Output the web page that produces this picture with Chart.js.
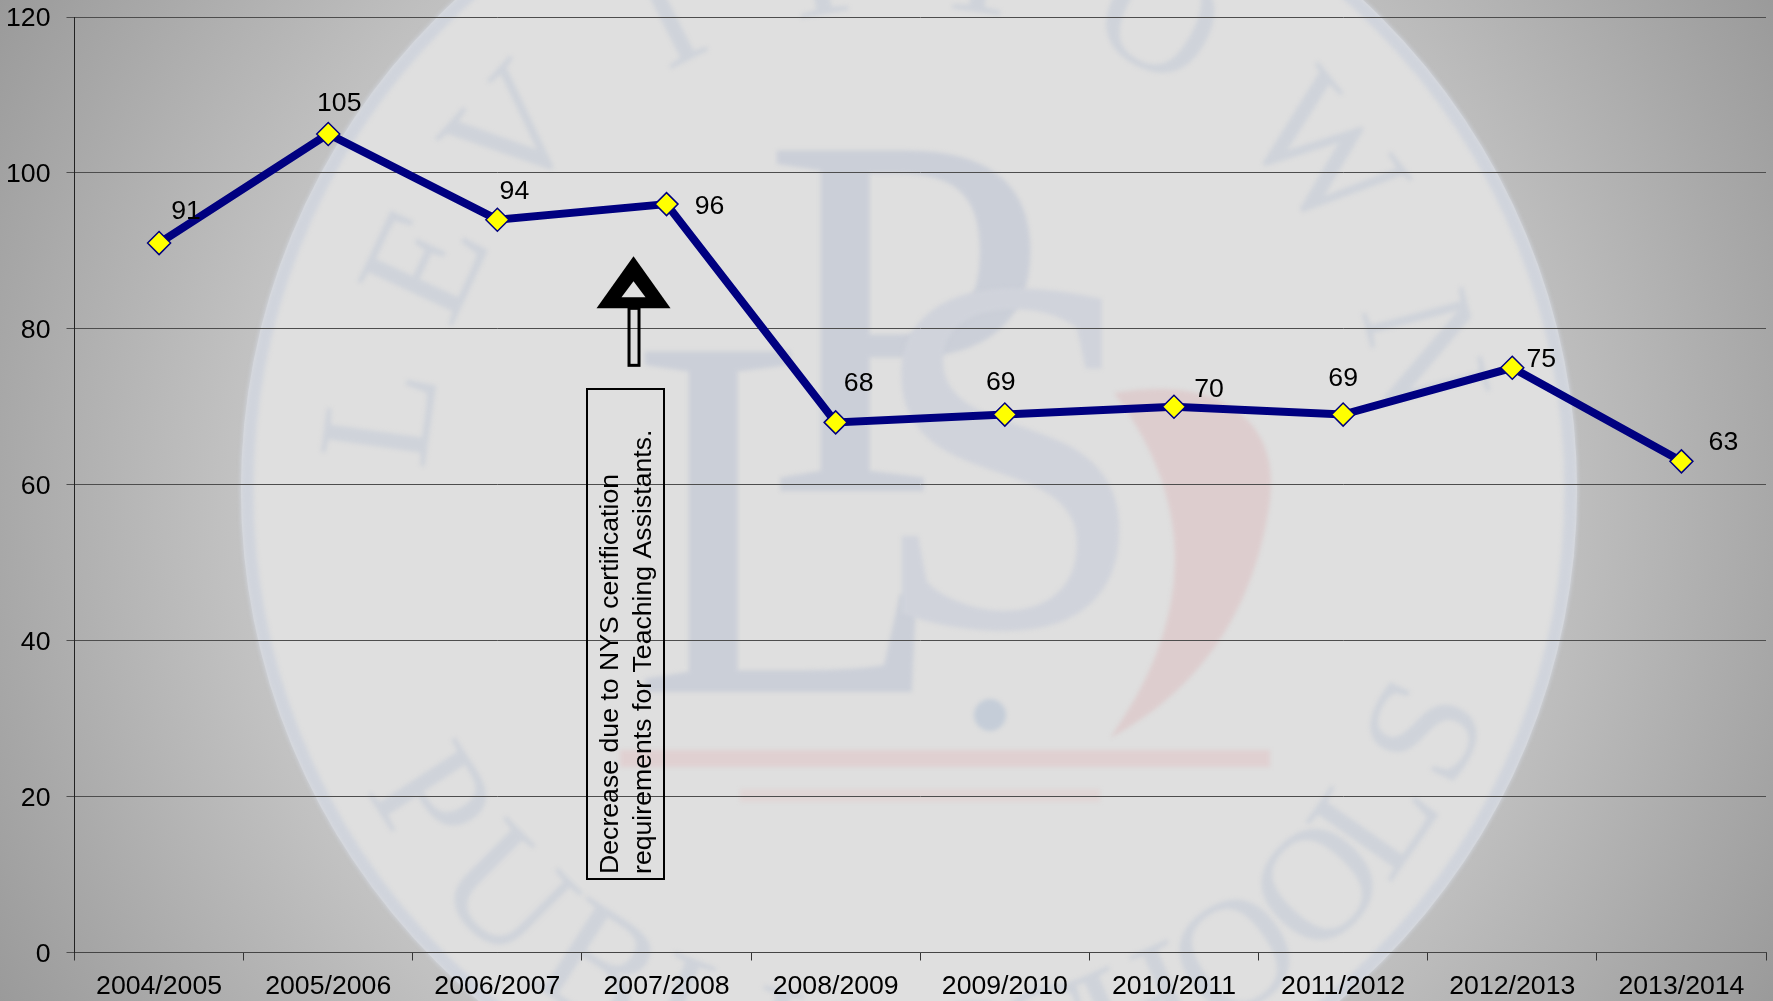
<!DOCTYPE html>
<html>
<head>
<meta charset="utf-8">
<title>Chart</title>
<script src="https://cdn.jsdelivr.net/npm/chart.js@4"></script>
<style>
    html, body { margin: 0; padding: 0; background: #c0c0c0; overflow: hidden; }
    canvas { display: block; }
</style>
</head>
<body>
<canvas id="line-chart" width="1773" height="1001"></canvas>
<script>
const years = ['2004/2005', '2005/2006', '2006/2007', '2007/2008', '2008/2009', '2009/2010', '2010/2011', '2011/2012', '2012/2013', '2013/2014'];
const values = [91, 105, 94, 96, 68, 69, 70, 69, 75, 63];
const yTicks = [0, 20, 40, 60, 80, 100, 120];
const noteLines = ['Decrease due to NYS certification', 'requirements for Teaching Assistants.'];
const FONT = '"Liberation Sans", Arial, sans-serif';
const FONT_SIZE = 26.67;

// where each value label sits relative to its point
const labelOffsets = [[27, -31], [11, -30], [17, -28], [43, 3], [23, -39], [-4, -32], [35, -17], [0, -36], [29, -8], [42, -19]];

// letters round the seal, angle in degrees from straight up / straight down
const sealTop = [['L', -82], ['E', -65], ['V', -48], ['I', -27], ['T', -10], ['T', 8], ['O', 28], ['W', 51], ['N', 75]];
const sealBottom = [['P', -57], ['U', -45], ['B', -33], ['L', -22], ['I', -14], ['C', -6], ['S', 6], ['C', 14], ['H', 24], ['O', 35], ['O', 46], ['L', 55], ['S', 65]];

const background = {
    id: 'background',
    beforeDraw(chart) {
        const ctx = chart.ctx;
        const w = chart.width, h = chart.height;
        ctx.save();
        const grad = ctx.createRadialGradient(886, 500, 0, 886, 500, 1020);
        grad.addColorStop(0, '#e0e0e0');
        grad.addColorStop(0.6, '#c6c6c6');
        grad.addColorStop(0.87, '#a8a8a8');
        grad.addColorStop(1, '#9a9a9a');
        ctx.fillStyle = grad;
        ctx.fillRect(0, 0, w, h);

        const cx = 909, cy = 490, r = 668;
        ctx.beginPath();
        ctx.arc(cx, cy, r, 0, Math.PI * 2);
        ctx.fillStyle = '#dfdfdf';
        ctx.fill();

        ctx.filter = 'blur(2px)';
        ctx.lineWidth = 13;
        ctx.strokeStyle = '#d0d4dc';
        ctx.beginPath();
        ctx.arc(cx, cy, r - 6, 0, Math.PI * 2);
        ctx.stroke();

        ctx.fillStyle = '#cfd3da';
        ctx.textAlign = 'center';
        ctx.textBaseline = 'middle';
        ctx.font = '160px "Liberation Serif", serif';
        sealTop.forEach(([ch, deg]) => {
            const a = deg * Math.PI / 180;
            ctx.save();
            ctx.translate(cx + Math.sin(a) * 525, cy - Math.cos(a) * 525);
            ctx.rotate(a);
            ctx.fillText(ch, 0, 0);
            ctx.restore();
        });
        sealBottom.forEach(([ch, deg]) => {
            const a = deg * Math.PI / 180;
            ctx.save();
            ctx.translate(cx + Math.sin(a) * 578, cy + Math.cos(a) * 578);
            ctx.rotate(-a);
            ctx.fillText(ch, 0, 0);
            ctx.restore();
        });

        // monogram
        ctx.textAlign = 'left';
        ctx.textBaseline = 'alphabetic';
        ctx.fillStyle = '#cbcfd8';
        ctx.font = '520px "Liberation Serif", serif';
        ctx.fillText('L', 630, 692);
        ctx.fillText('P', 762, 491);
        ctx.fillStyle = '#d0d3db';
        ctx.textAlign = 'center';
        ctx.font = '510px "Liberation Serif", serif';
        ctx.fillText('S', 1009, 626);

        // red swoosh and bars
        ctx.fillStyle = '#ddcdce';
        ctx.beginPath();
        ctx.moveTo(1114, 393);
        ctx.bezierCurveTo(1220, 375, 1280, 420, 1270, 500);
        ctx.bezierCurveTo(1255, 610, 1200, 690, 1110, 738);
        ctx.bezierCurveTo(1180, 640, 1210, 520, 1114, 393);
        ctx.fill();
        ctx.fillStyle = '#e0d0d1';
        ctx.fillRect(620, 750, 650, 17);
        ctx.fillStyle = '#e0d6d6';
        ctx.fillRect(740, 789, 360, 13);
        ctx.fillStyle = '#c5cdd8';
        ctx.beginPath();
        ctx.arc(990, 715, 16, 0, Math.PI * 2);
        ctx.fill();
        ctx.restore();
    }
};

const annotations = {
    id: 'annotations',
    afterDraw(chart) {
        const ctx = chart.ctx;
        const meta = chart.getDatasetMeta(0);
        const x = chart.scales.x, y = chart.scales.y;
        ctx.save();

        ctx.fillStyle = '#000';
        ctx.font = FONT_SIZE + 'px ' + FONT;
        ctx.textAlign = 'center';
        ctx.textBaseline = 'middle';
        meta.data.forEach((pt, i) => {
            ctx.fillText(values[i], pt.x + labelOffsets[i][0], pt.y + labelOffsets[i][1]);
        });

        // arrow, hung off the 2007/2008 category
        const ax = x.getPixelForValue(3) - 33;
        const ay = y.getPixelForValue(89.3);
        ctx.beginPath();
        ctx.moveTo(ax, ay);
        ctx.lineTo(ax + 37, ay + 52);
        ctx.lineTo(ax - 37, ay + 52);
        ctx.closePath();
        ctx.fill();
        ctx.fillStyle = '#e0e0e0';
        ctx.beginPath();
        ctx.moveTo(ax, ay + 25);
        ctx.lineTo(ax + 12, ay + 41);
        ctx.lineTo(ax - 12, ay + 41);
        ctx.closePath();
        ctx.fill();
        ctx.strokeStyle = '#000';
        ctx.lineWidth = 3;
        ctx.strokeRect(ax - 4.5, ay + 52, 10, 57);

        // note box
        ctx.lineWidth = 2;
        ctx.strokeRect(587, 389, 77, 490);
        ctx.fillStyle = '#000';
        ctx.textAlign = 'left';
        ctx.textBaseline = 'alphabetic';
        noteLines.forEach((line, i) => {
            ctx.save();
            ctx.translate(618 + i * 33, 874);
            ctx.rotate(-Math.PI / 2);
            ctx.fillText(line, 0, 0);
            ctx.restore();
        });
        ctx.restore();
    }
};

// y labels sit about 2px lower than the library centres them
const nudgeLabels = scale => {
    if (scale.nudged) return;
    scale.nudged = true;
    const drawLabels = scale.drawLabels;
    scale.drawLabels = function (area) {
        this.ctx.save();
        this.ctx.translate(0, 2);
        drawLabels.call(this, area);
        this.ctx.restore();
    };
};

new Chart(document.getElementById('line-chart'), {
    type: 'line',
    data: {
        labels: years,
        datasets: [{
            data: values,
            borderColor: '#000080',
            borderWidth: 8,
            tension: 0,
            fill: false,
            pointStyle: 'rectRot',
            pointRadius: 11.5,
            pointBorderWidth: 1.5,
            pointBorderColor: '#000080',
            pointBackgroundColor: '#ffff00'
        }]
    },
    options: {
        responsive: false,
        animation: false,
        layout: { autoPadding: false, padding: { top: 17, right: 7, left: 0, bottom: 0 } },
        plugins: { legend: { display: false }, tooltip: { enabled: false } },
        scales: {
            x: {
                type: 'category',
                offset: true,
                afterFit: s => { s.height = 48.5; s.paddingLeft = 0; s.paddingRight = 0; },
                grid: { offset: true, drawOnChartArea: false, tickLength: 8, color: '#333' },
                border: { color: '#444', width: 1 },
                ticks: {
                    autoSkip: false,
                    maxRotation: 0,
                    padding: 10,
                    color: '#000',
                    font: { family: FONT, size: FONT_SIZE }
                }
            },
            y: {
                min: 0,
                max: 120,
                afterBuildTicks: s => { s.ticks = yTicks.map(v => ({ value: v })); },
                afterFit: s => { s.width = 74.5; s.paddingTop = 0; s.paddingBottom = 0; nudgeLabels(s); },
                grid: { color: '#4d4d4d', tickLength: 8, lineWidth: 1 },
                border: { color: '#222', width: 1 },
                ticks: {
                    padding: 16,
                    color: '#000',
                    font: { family: FONT, size: FONT_SIZE }
                }
            }
        }
    },
    plugins: [background, annotations]
});
</script>
</body>
</html>
